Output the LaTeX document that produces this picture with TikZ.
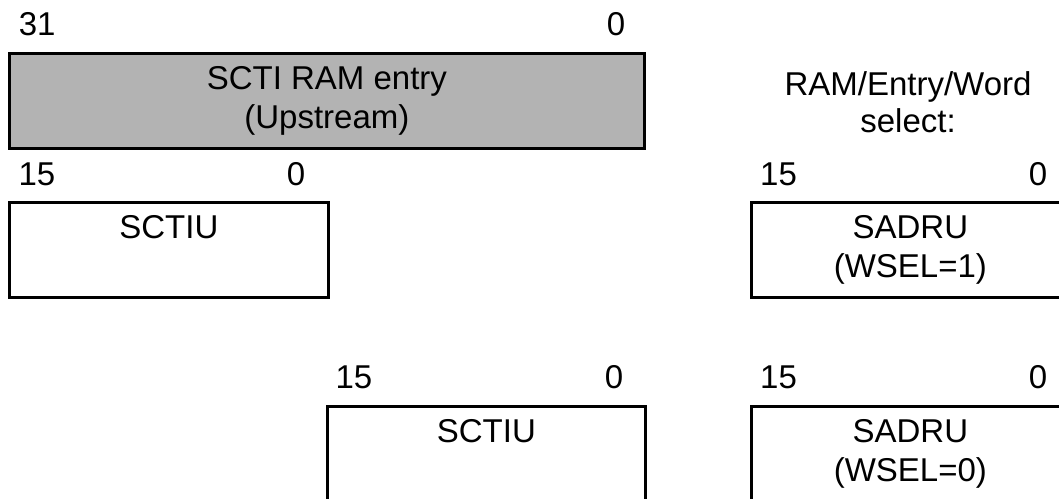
\documentclass[tikz,border=0pt]{standalone}
\usepackage{fontspec}
\setmainfont{Liberation Sans}
\usetikzlibrary{calc}
\definecolor{ramgray}{RGB}{179,179,179}
\begin{document}
\begin{tikzpicture}[x=1pt,y=-1pt,
  regbox/.style={draw=black, line width=2.7pt, inner sep=0pt, minimum height=95pt, anchor=north west},
  halfbox/.style={regbox, minimum width=318pt},
  txt/.style={font=\fontsize{33}{39}\selectfont, inner sep=0pt, anchor=base},
  bitnum/.style={font=\fontsize{33}{39}\selectfont, inner sep=0pt, anchor=base west}]
\useasboundingbox (0,0) rectangle (1059,498);
\clip (0,0) rectangle (1059,498);

% top 32-bit entry
\node[bitnum] (b31) at (18.6,35) {31};
\node[bitnum] (b0a) at (606.6,35) {0};
\node[regbox, fill=ramgray, minimum width=635pt] (ram) at (8,52) {};
\node[txt] (ramt1) at ($(ram.north)+(0,37)$) {SCTI RAM entry};
\node[txt] (ramt2) at ($(ram.north)+(0,76)$) {(Upstream)};

% select caption
\node[txt] (sel1) at (908,95) {RAM/Entry/Word};
\node[txt] (sel2) at (908,132) {select:};

% row 1
\node[bitnum] (b15b) at (18.4,185) {15};
\node[bitnum] (b0b) at (286.6,185) {0};
\node[halfbox, minimum width=319pt] (sctiu1) at (8,201) {};
\node[txt] (sctiu1t) at ($(sctiu1.north)+(0,37)$) {SCTIU};

\node[bitnum] (b15c) at (760,185) {15};
\node[bitnum] (b0c) at (1028.6,185) {0};
\node[halfbox] (sadru1) at (750,201) {};
\node[txt] (sadru1t1) at ($(sadru1.north)+(0,37)$) {SADRU};
\node[txt] (sadru1t2) at ($(sadru1.north)+(0,76)$) {(WSEL=1)};

% row 2
\node[bitnum] (b15d) at (335.4,388) {15};
\node[bitnum] (b0d) at (604.6,388) {0};
\node[halfbox] (sctiu2) at (326,405) {};
\node[txt] (sctiu2t) at ($(sctiu2.north)+(0,37)$) {SCTIU};

\node[bitnum] (b15e) at (760,388) {15};
\node[bitnum] (b0e) at (1028.6,388) {0};
\node[halfbox] (sadru2) at (750,405) {};
\node[txt] (sadru2t1) at ($(sadru2.north)+(0,37)$) {SADRU};
\node[txt] (sadru2t2) at ($(sadru2.north)+(0,76)$) {(WSEL=0)};
\end{tikzpicture}
\end{document}
